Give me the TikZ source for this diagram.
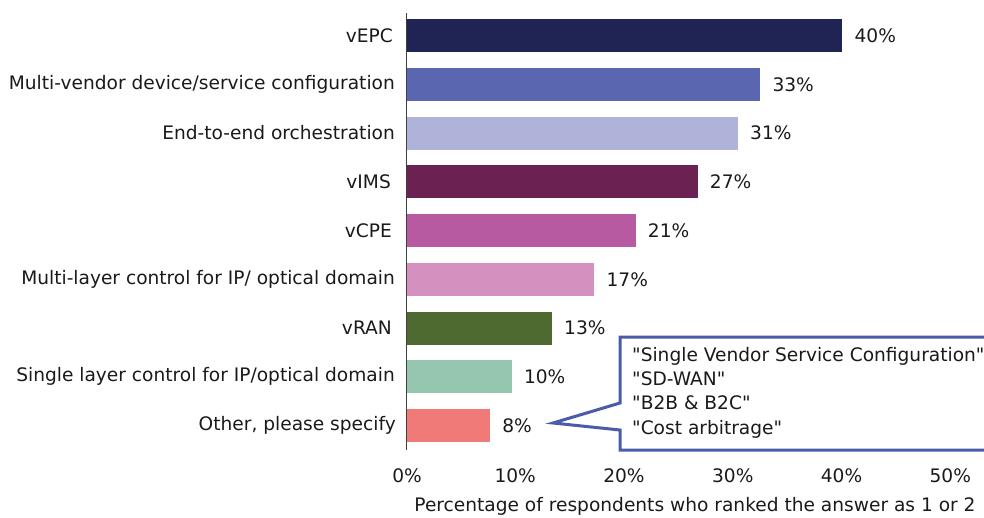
\documentclass[tikz,border=0pt]{standalone}
\usepackage{fontspec}
\setmainfont{DejaVu Sans}
\definecolor{cA}{HTML}{1F2454}
\definecolor{cB}{HTML}{5A67B0}
\definecolor{cC}{HTML}{B0B3D9}
\definecolor{cD}{HTML}{6B2152}
\definecolor{cE}{HTML}{B85AA2}
\definecolor{cF}{HTML}{D490BF}
\definecolor{cG}{HTML}{4F6A30}
\definecolor{cH}{HTML}{95C6AF}
\definecolor{cI}{HTML}{F07A78}
\definecolor{callblue}{HTML}{4A5BAA}
\definecolor{txt}{HTML}{1A1A1A}
\begin{document}
\begin{tikzpicture}[x=1pt,y=-1pt,
  every node/.style={font=\fontsize{18.6}{24.3}\selectfont, text=txt},
  bar/.style={anchor=west, minimum height=33pt, inner sep=0pt, draw=none},
  cat/.style={anchor=east, inner sep=0pt},
  val/.style={anchor=west, inner sep=0pt},
  tick/.style={anchor=center, inner sep=0pt},
  axisline/.style={draw=black!75, line width=1.4pt},
  callout/.style={draw=callblue, line width=3pt, line join=miter, fill=white}]
\useasboundingbox (0,0) rectangle (984,517);
\clip (0,0) rectangle (984,517);
% axis
\coordinate (axtop) at (406.5,13);
\coordinate (axbot) at (406.5,450);
% bars
\def\u{10.875}
\node[bar, fill=cA, minimum width=40.0*\u pt] (b1) at (407,35.5) {};
\node[bar, fill=cB, minimum width=32.45*\u pt] (b2) at (407,84.25) {};
\node[bar, fill=cC, minimum width=30.4*\u pt] (b3) at (407,133) {};
\node[bar, fill=cD, minimum width=26.7*\u pt] (b4) at (407,181.75) {};
\node[bar, fill=cE, minimum width=21.0*\u pt] (b5) at (407,230.5) {};
\node[bar, fill=cF, minimum width=17.2*\u pt] (b6) at (407,279.25) {};
\node[bar, fill=cG, minimum width=13.3*\u pt] (b7) at (407,328) {};
\node[bar, fill=cH, minimum width=9.6*\u pt] (b8) at (407,376.75) {};
\node[bar, fill=cI, minimum width=7.6*\u pt] (b9) at (407,425.5) {};
\draw[axisline] (axtop) -- (axbot);
% category labels
\node[cat] (l1) at (393,35.5) {vEPC};
\node[cat] (l2) at (395,84.25) {Multi-vendor device/service configuration};
\node[cat] (l3) at (395,133) {End-to-end orchestration};
\node[cat] (l4) at (391,181.75) {vIMS};
\node[cat] (l5) at (392,230.5) {vCPE};
\node[cat] (l6) at (395,279.25) {Multi-layer control for IP/ optical domain};
\node[cat] (l7) at (392,328) {vRAN};
\node[cat] (l8) at (395,376.75) {Single layer control for IP/optical domain};
\node[cat] (l9) at (396,425.5) {Other, please specify};
% values
\node[val] (v1) at ([xshift=12pt]b1.east) {40\%};
\node[val] (v2) at ([xshift=12pt]b2.east) {33\%};
\node[val] (v3) at ([xshift=12pt]b3.east) {31\%};
\node[val] (v4) at ([xshift=12pt]b4.east) {27\%};
\node[val] (v5) at ([xshift=12pt]b5.east) {21\%};
\node[val] (v6) at ([xshift=12pt]b6.east) {17\%};
\node[val] (v7) at ([xshift=12pt]b7.east) {13\%};
\node[val] (v8) at ([xshift=12pt]b8.east) {10\%};
\node[val] (v9) at ([xshift=12pt]b9.east) {8\%};
% ticks
\node[tick] (t0) at (407,476) {0\%};
\node[tick] (t1) at (515.25,476) {10\%};
\node[tick] (t2) at (624,476) {20\%};
\node[tick] (t3) at (732.75,476) {30\%};
\node[tick] (t4) at (841.5,476) {40\%};
\node[tick] (t5) at (950.25,476) {50\%};
\node[tick] (xtitle) at (695,506) {Percentage of respondents who ranked the answer as 1 or 2};
% callout
\coordinate (ctl) at (620,337);
\coordinate (ctr) at (1000,337);
\coordinate (cbr) at (1000,450);
\coordinate (cbl) at (620,450);
\coordinate (cj1) at (620,403);
\coordinate (cj2) at (620,430);
\coordinate (ctip) at (553,423);
\draw[callout] (ctl) -- (ctr) -- (cbr) -- (cbl) -- (cj2) -- (ctip) -- (cj1) -- cycle;
\node[anchor=north west, inner sep=0pt, align=left] (ctext) at (632,347)
  {\textquotedbl Single Vendor Service Configuration\textquotedbl\\\textquotedbl SD-WAN\textquotedbl\\\textquotedbl B2B \& B2C\textquotedbl\\\textquotedbl Cost arbitrage\textquotedbl};
\end{tikzpicture}
\end{document}
